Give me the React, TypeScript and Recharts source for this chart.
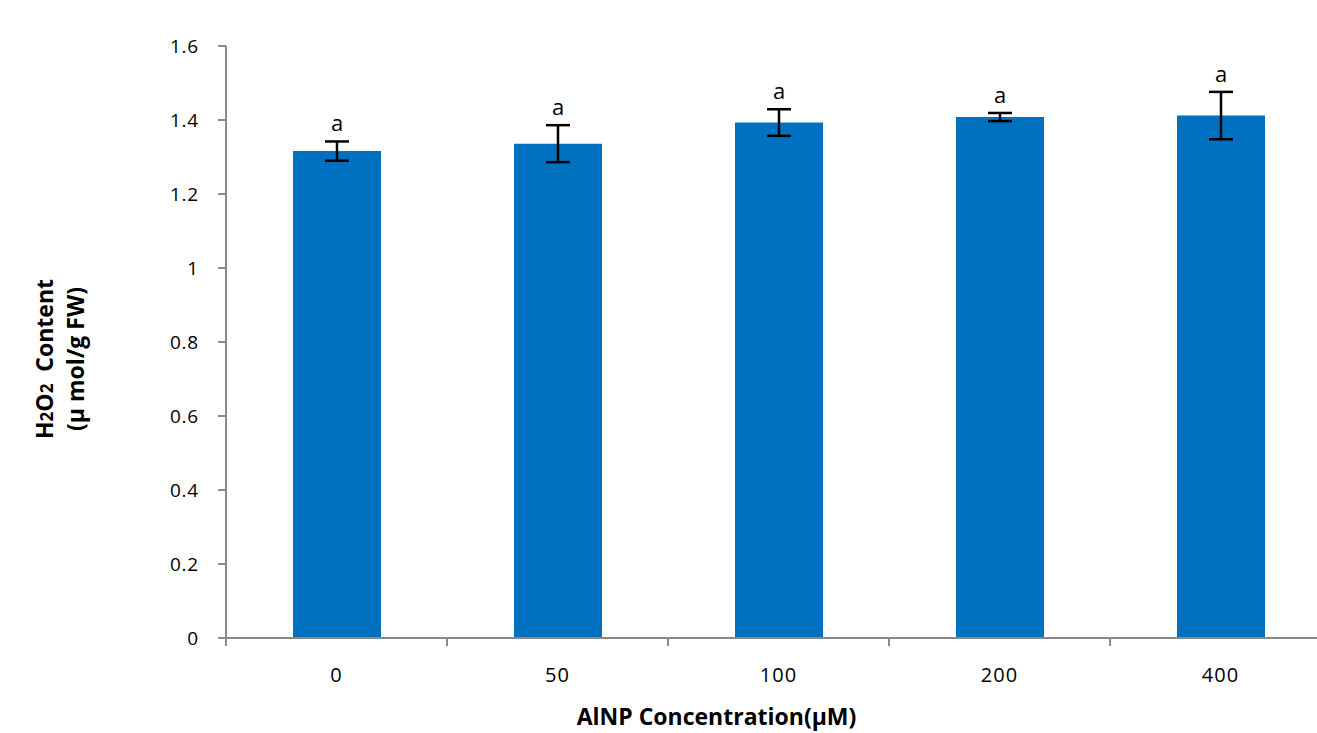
import React from "react";
import { BarChart, Bar, XAxis, YAxis, ErrorBar, LabelList } from "recharts";

const categories = ["0", "50", "100", "200", "400"];
const h2o2Values = [1.316, 1.336, 1.393, 1.408, 1.412];
const h2o2Errors = [0.026, 0.05, 0.036, 0.011, 0.064];
const letters = ["a", "a", "a", "a", "a"];
const yTicks = [0, 0.2, 0.4, 0.6, 0.8, 1, 1.2, 1.4, 1.6];

const data = categories.map((c, i) => ({
  name: c,
  value: h2o2Values[i],
  err: h2o2Errors[i],
  letter: letters[i],
}));

const CHART_W = 1345;
const CHART_H = 733;
const MARGIN = { top: 46, right: 14, bottom: 0, left: 100 };
const YAXIS_W = 126;
const XAXIS_H = 95;
const PLOT_W = CHART_W - MARGIN.left - MARGIN.right - YAXIS_W;
const BAND = PLOT_W / categories.length;

const AXIS_COLOR = "#898989";
const FONT = "'Open Sans', sans-serif";

const XTick = (props: any) => {
  const { x, y, payload, index } = props;
  const half = BAND / 2;
  return (
    <g>
      <line x1={x - half} y1={y - 8} x2={x - half} y2={y} stroke={AXIS_COLOR} strokeWidth={2} />
      {index === categories.length - 1 && (
        <line x1={x + half} y1={y - 8} x2={x + half} y2={y} stroke={AXIS_COLOR} strokeWidth={2} />
      )}
      <text x={x} y={y + 36} textAnchor="middle" fontFamily={FONT} fontSize={20} letterSpacing={1} fill="#000">
        {payload.value}
      </text>
    </g>
  );
};

const LetterLabel = (props: any) => {
  const { x, y, width, height, index } = props;
  const d = data[index];
  const pxPerUnit = height / d.value;
  const top = y - d.err * pxPerUnit;
  return (
    <text x={x + width / 2} y={top - 10} textAnchor="middle" fontFamily={FONT} fontSize={22} fill="#000">
      {d.letter}
    </text>
  );
};

const YTitle = (props: any) => {
  const vb = props.viewBox || {};
  const cy = vb.y + vb.height / 2 + 17;
  return (
    <g fontFamily={FONT} fontWeight="bold" fontSize={23} fill="#000">
      <text x={53} y={cy} textAnchor="middle" transform={`rotate(-90 53 ${cy})`}>
        <tspan>H</tspan>
        <tspan fontSize={17}>2</tspan>
        <tspan>O</tspan>
        <tspan fontSize={17}>2</tspan>
        <tspan>{"\u00a0 Content"}</tspan>
      </text>
      <text x={84} y={cy} textAnchor="middle" transform={`rotate(-90 84 ${cy})`}>
        (µ mol/g FW)
      </text>
    </g>
  );
};

const XTitle = (props: any) => {
  const vb = props.viewBox || {};
  return (
    <text x={vb.x + vb.width / 2 - 62} y={vb.y + 87} textAnchor="middle" fontFamily={FONT} fontWeight="bold" fontSize={23} fill="#000">
      AlNP Concentration(µM)
    </text>
  );
};

export default function App() {
  return (
    <div style={{ position: "fixed", left: 0, top: 0, width: 1317, height: 733, overflow: "hidden", background: "#fff" }}>
      <BarChart width={CHART_W} height={CHART_H} data={data} margin={MARGIN}>
        <XAxis
          dataKey="name"
          height={XAXIS_H}
          tickLine={false}
          tick={<XTick />}
          axisLine={{ stroke: AXIS_COLOR, strokeWidth: 2 }}
          interval={0}
          label={<XTitle />}
        />
        <YAxis
          width={YAXIS_W}
          domain={[0, 1.6]}
          ticks={yTicks}
          interval={0}
          tickSize={8}
          tickMargin={19}
          tickLine={{ stroke: AXIS_COLOR, strokeWidth: 2 }}
          axisLine={{ stroke: AXIS_COLOR, strokeWidth: 2 }}
          tick={{ fontFamily: FONT, fontSize: 19, letterSpacing: 0.8, fill: "#000" }}
          label={<YTitle />}
        />
        <Bar dataKey="value" fill="#0070C0" barSize={88} isAnimationActive={false}>
          <ErrorBar dataKey="err" width={12} strokeWidth={2.5} stroke="#000" direction="y" />
          <LabelList dataKey="letter" content={<LetterLabel />} />
        </Bar>
      </BarChart>
    </div>
  );
}
